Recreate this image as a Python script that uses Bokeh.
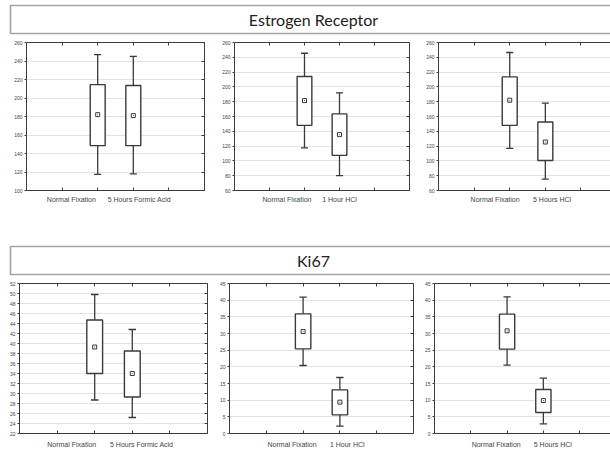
from bokeh.plotting import figure
from bokeh.layouts import column, row
from bokeh.models import Range1d, FixedTicker, LinearAxis
from bokeh.core.properties import value
from bokeh.embed import file_html
from bokeh.resources import INLINE

# ---- data -------------------------------------------------------------
GROUPS = ["Normal Fixation", "5 Hours Formic Acid", "1 Hour HCl", "5 Hours HCl"]

ER_TREATMENT = ["5 Hours Formic Acid", "1 Hour HCl", "5 Hours HCl"]
# per panel: [normal fixation, treatment]
er_max = [[247.0, 245.0], [245.5, 192.0], [246.5, 178.0]]
er_q3 = [[214.5, 213.5], [214.0, 163.5], [213.5, 152.5]]
er_mean = [[182.0, 181.0], [181.5, 135.5], [182.0, 125.5]]
er_q1 = [[148.5, 148.5], [148.0, 107.5], [148.0, 100.5]]
er_min = [[117.5, 118.0], [117.5, 80.0], [117.0, 75.5]]
er_ylim = [(100, 260, 20), (60, 260, 20), (60, 260, 20)]

KI_TREATMENT = ["5 Hours Formic Acid", "1 Hour HCl", "5 Hours HCl"]
ki_max = [[49.8, 42.8], [40.9, 16.8], [41.0, 16.6]]
ki_q3 = [[44.7, 38.5], [35.9, 13.1], [35.8, 13.2]]
ki_mean = [[39.3, 34.0], [30.6, 9.4], [30.8, 9.9]]
ki_q1 = [[34.0, 29.3], [25.4, 5.6], [25.3, 6.3]]
ki_min = [[28.7, 25.2], [20.4, 2.2], [20.5, 2.9]]
ki_ylim = [(22, 52, 2), (0, 45, 5), (0, 45, 5)]

BOX_POS = [2, 3]          # category slots inside each panel (0..5 axis)
CAT_TICKS = [1, 2, 3, 4]

LINE = "#3a3a3a"
FRAME = "#3c3c3c"
GRID = "#e3e3e3"
TXT = "#444444"


def edge_axis(minor):
    """Unlabelled axis: just a frame edge with short inward marks."""
    return LinearAxis(ticker=FixedTicker(ticks=[], minor_ticks=minor),
                      major_tick_line_color=None, major_tick_out=0, major_tick_in=0,
                      major_label_standoff=0,
                      minor_tick_in=3, minor_tick_out=0,
                      minor_tick_line_color=FRAME, axis_line_color=FRAME)


def panel(width, height, bl, br, bt, bb, x_end, ylim, stats, labels, label_pos,
          label_standoff, right_edge=True):
    lo, hi, step = ylim
    yticks = list(range(lo, hi + 1, step))
    p = figure(width=width, height=height, x_range=Range1d(0, x_end),
               y_range=Range1d(lo, hi), output_backend="svg",
               toolbar_location=None, min_border_left=bl, min_border_right=br,
               min_border_top=bt, min_border_bottom=bb)
    p.outline_line_color = None
    p.background_fill_color = "white"
    p.border_fill_color = "white"
    p.xgrid.visible = False
    p.ygrid.grid_line_color = GRID
    p.ygrid.grid_line_width = 1

    # bottom axis: group names, with category marks as minor ticks
    xa = p.xaxis[0]
    xa.ticker = FixedTicker(ticks=label_pos, minor_ticks=CAT_TICKS)
    xa.major_label_overrides = {pos: t for pos, t in zip(label_pos, labels)}
    xa.major_tick_line_color = None
    xa.major_tick_out = 0
    xa.major_tick_in = 0
    xa.minor_tick_in = 3
    xa.minor_tick_out = 0
    xa.minor_tick_line_color = FRAME
    xa.axis_line_color = FRAME
    xa.major_label_standoff = label_standoff
    xa.major_label_text_font_size = "7px"
    xa.major_label_text_font = "Liberation Sans"
    xa.major_label_text_color = TXT

    ya = p.yaxis[0]
    ya.ticker = FixedTicker(ticks=yticks)
    ya.major_label_text_font_size = "5px"
    ya.major_label_text_font = "Liberation Sans"
    ya.major_label_text_color = TXT
    ya.major_label_standoff = 2
    ya.major_tick_in = 0
    ya.major_tick_out = 2
    ya.minor_tick_line_color = None
    ya.axis_line_color = FRAME
    ya.major_tick_line_color = FRAME

    p.add_layout(edge_axis(CAT_TICKS), "above")
    if right_edge:
        p.add_layout(edge_axis(yticks), "right")

    mx, q3, mean, q1, mn = stats
    cap = 0.2
    # whiskers
    p.segment(x0=BOX_POS, y0=q3, x1=BOX_POS, y1=mx, line_color=LINE, line_width=1.3)
    p.segment(x0=BOX_POS, y0=mn, x1=BOX_POS, y1=q1, line_color=LINE, line_width=1.3)
    p.segment(x0=[x - cap / 2 for x in BOX_POS], y0=mx,
              x1=[x + cap / 2 for x in BOX_POS], y1=mx, line_color=LINE, line_width=1.3)
    p.segment(x0=[x - cap / 2 for x in BOX_POS], y0=mn,
              x1=[x + cap / 2 for x in BOX_POS], y1=mn, line_color=LINE, line_width=1.3)
    # boxes
    p.vbar(x=BOX_POS, width=0.42, top=q3, bottom=q1, fill_color="white",
           line_color=LINE, line_width=1.4)
    # mean
    p.scatter(x=BOX_POS, y=mean, marker="square_dot", size=4, fill_color="white",
              line_color=LINE, line_width=1)
    return p


def title_band(text, height, box_top, box_bottom, ty):
    t = figure(width=610, height=height, x_range=Range1d(0, 610),
               y_range=Range1d(height, 0), output_backend="svg",
               toolbar_location=None, min_border=0,
               x_axis_location=None, y_axis_location=None)
    t.outline_line_color = None
    t.grid.visible = False
    t.quad(left=[10], right=[640], top=[box_top], bottom=[box_bottom],
           fill_color=None, line_color="#a4a4a4", line_width=1.6)
    t.text(x=[313], y=[ty], text=[text], text_align="center", text_baseline="middle",
           text_font=value("Lato"), text_font_size="16px", text_color="#222222")
    return t


def stats_of(mx, q3, mean, q1, mn, i):
    return mx[i], q3[i], mean[i], q1[i], mn[i]


# ---- top row: Estrogen Receptor ---------------------------------------
t1 = title_band("Estrogen Receptor", 38, 5, 33, 19)

p1 = panel(218, 199, 26, 14, 4, 47, 5, er_ylim[0],
           stats_of(er_max, er_q3, er_mean, er_q1, er_min, 0),
           [GROUPS[0], ER_TREATMENT[0]], [1.26, 3.17], 5)
p2 = panel(205, 199, 16, 14, 4, 47, 5, er_ylim[1],
           stats_of(er_max, er_q3, er_mean, er_q1, er_min, 1),
           [GROUPS[0], ER_TREATMENT[1]], [1.5, 3.0], 5)
p3 = panel(187, 199, 15, 0, 4, 47, 4.83, er_ylim[2],
           stats_of(er_max, er_q3, er_mean, er_q1, er_min, 2),
           [GROUPS[0], ER_TREATMENT[2]], [1.59, 3.19], 5, right_edge=False)

# ---- bottom row: Ki67 --------------------------------------------------
t2 = title_band("Ki67", 41, 9, 37, 23)

p4 = panel(216, 172, 19, 9, 5, 16, 5, ki_ylim[0],
           stats_of(ki_max, ki_q3, ki_mean, ki_q1, ki_min, 0),
           [GROUPS[0], KI_TREATMENT[0]], [1.39, 3.25], 7)
p5 = panel(205, 172, 12, 8, 5, 16, 5, ki_ylim[1],
           stats_of(ki_max, ki_q3, ki_mean, ki_q1, ki_min, 1),
           [GROUPS[0], KI_TREATMENT[1]], [1.7, 3.2], 7)
p6 = panel(189, 172, 11, 0, 5, 16, 4.85, ki_ylim[2],
           stats_of(ki_max, ki_q3, ki_mean, ki_q1, ki_min, 2),
           [GROUPS[0], KI_TREATMENT[2]], [1.7, 3.26], 7, right_edge=False)

layout = column(t1, row(p1, p2, p3), t2, row(p4, p5, p6))

open("out.html", "w").write(file_html(layout, INLINE))
